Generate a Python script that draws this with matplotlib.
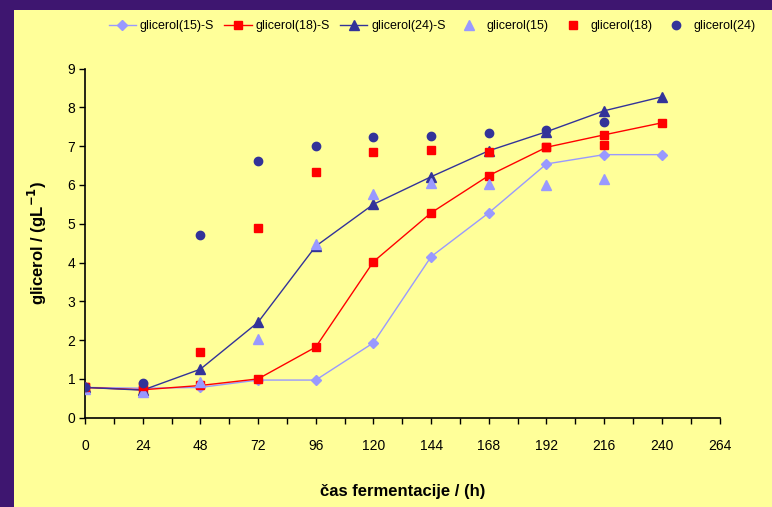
import matplotlib
matplotlib.use('Agg')
import matplotlib.pyplot as plt
from matplotlib.patches import Rectangle
from matplotlib.ticker import MultipleLocator

plt.rcParams['font.family'] = ['Liberation Sans', 'DejaVu Sans']

# cas fermentacije (h)
cas = [0, 24, 48, 72, 96, 120, 144, 168, 192, 216, 240]
cas_exp = [0, 24, 48, 72, 96, 120, 144, 168, 192, 216]

# simulirane krivulje
gli15_s = [0.78, 0.76, 0.78, 0.97, 0.97, 1.93, 4.15, 5.28, 6.54, 6.78, 6.78]
gli18_s = [0.78, 0.72, 0.83, 1.0, 1.82, 4.02, 5.28, 6.24, 6.97, 7.29, 7.6]
gli24_s = [0.78, 0.71, 1.25, 2.46, 4.42, 5.5, 6.21, 6.88, 7.37, 7.91, 8.27]

# eksperimentalne tocke
gli15 = [0.75, 0.67, 0.93, 2.02, 4.47, 5.76, 6.05, 6.02, 6.0, 6.14]
gli18 = [0.8, 0.82, 1.69, 4.89, 6.33, 6.85, 6.89, 6.86, 6.97, 7.02]
gli24 = [0.8, 0.9, 4.71, 6.62, 6.99, 7.23, 7.26, 7.33, 7.41, 7.63]

svetlo_modra = '#9999FF'
rdeca = '#FF0000'
temno_modra = '#333399'

fig = plt.figure(figsize=(7.72, 5.07), dpi=100)
fig.patch.set_facecolor('#3E1670')
fig.patches.append(Rectangle((14/772., 0), 1, 1 - 10/507., transform=fig.transFigure,
                             facecolor='#FFFF99', edgecolor='none', zorder=-5))

ax = fig.add_axes([85/772., 1 - 417.7/507., (719.5-85)/772., (417.7-68.5)/507.])
ax.set_facecolor('none')

ax.plot(cas, gli15_s, '-D', color=svetlo_modra, lw=1.0, ms=5, label='glicerol(15)-S', zorder=3)
ax.plot(cas, gli18_s, '-s', color=rdeca, lw=1.0, ms=6, label='glicerol(18)-S', zorder=3)
ax.plot(cas, gli24_s, '-^', color=temno_modra, lw=1.0, ms=6.5, label='glicerol(24)-S', zorder=3)
ax.plot(cas_exp, gli15, '^', color=svetlo_modra, ms=6.5, ls='none', label='glicerol(15)', zorder=4)
ax.plot(cas_exp, gli18, 's', color=rdeca, ms=6, ls='none', label='glicerol(18)', zorder=4)
ax.plot(cas_exp, gli24, 'o', color=temno_modra, ms=6, ls='none', label='glicerol(24)', zorder=5)

ax.set_xlim(0, 264)
ax.set_ylim(0, 9)
ax.xaxis.set_major_locator(MultipleLocator(24))
ax.xaxis.set_minor_locator(MultipleLocator(12))
ax.yaxis.set_major_locator(MultipleLocator(1))

for s in ['top', 'right']:
    ax.spines[s].set_visible(False)
for s in ['left', 'bottom']:
    ax.spines[s].set_linewidth(1.2)

ax.tick_params(axis='x', which='both', direction='out', length=4, width=1.0, pad=11, labelsize=10)
ax.tick_params(axis='y', direction='out', length=4, width=1.0, pad=3, labelsize=10)

ax.set_xlabel('čas fermentacije / (h)', fontsize=12, fontweight='bold', labelpad=23)
ax.set_ylabel('glicerol / (gL$^{\\mathbf{-1}}$)', fontsize=12, fontweight='bold', labelpad=13)

fig.legend(loc='center', bbox_to_anchor=(432/772., 1 - 26/507.), ncol=6, frameon=False,
           fontsize=9, handlelength=2.2, columnspacing=0.8, handletextpad=0.3)

plt.savefig('out.png', dpi=100, facecolor=fig.get_facecolor())
